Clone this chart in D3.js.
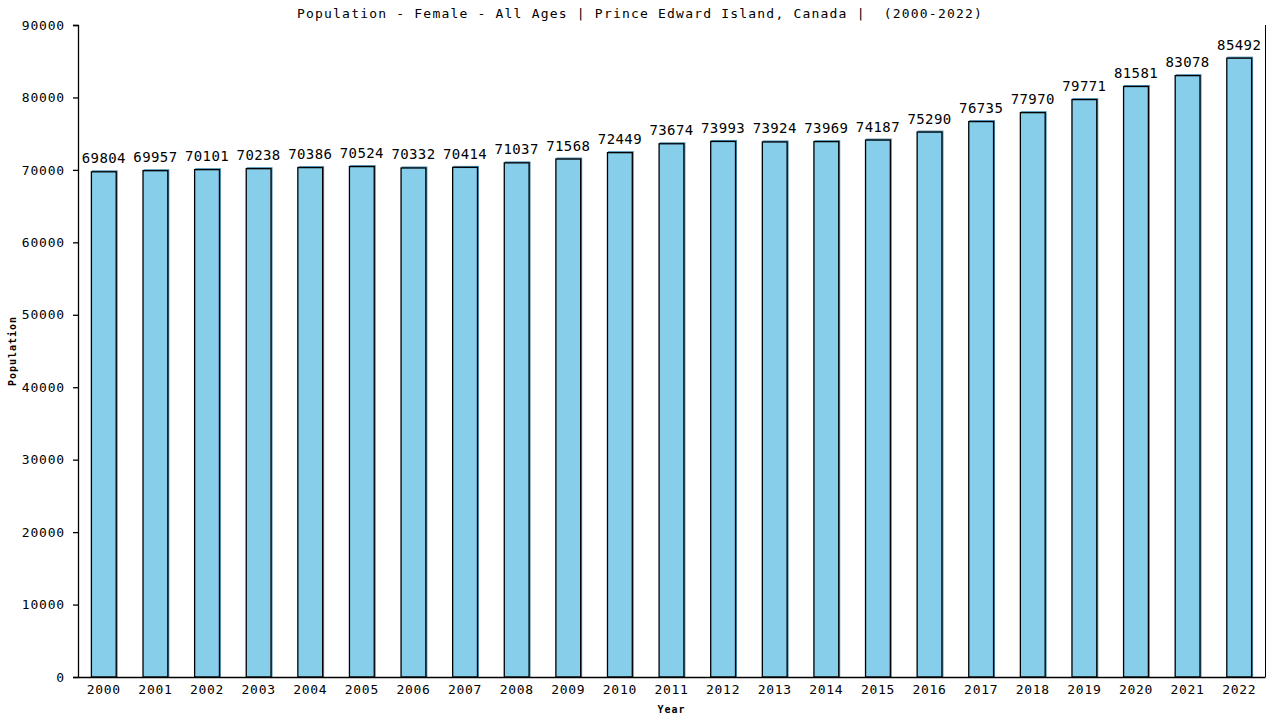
<!DOCTYPE html>
<html>
<head>
<meta charset="utf-8">
<script src="https://cdn.jsdelivr.net/npm/d3@7"></script>
<style>
  body { margin: 0; background: #fff; }
  text { font-family: "DejaVu Sans Mono", "Liberation Mono", monospace; fill: #000; }
</style>
</head>
<body>
<div id="chart"></div>
<script>
// chart data
const years = ["2000","2001","2002","2003","2004","2005","2006","2007","2008","2009","2010",
  "2011","2012","2013","2014","2015","2016","2017","2018","2019","2020","2021","2022"];
const population = [69804,69957,70101,70238,70386,70524,70332,70414,71037,71568,72449,
  73674,73993,73924,73969,74187,75290,76735,77970,79771,81581,83078,85492];
const yTicks = [0,10000,20000,30000,40000,50000,60000,70000,80000,90000];
const title = "Population - Female - All Ages | Prince Edward Island, Canada |  (2000-2022)";

const width = 1280, height = 720;
const margin = {top: 25, right: 15, bottom: 43, left: 78};
const innerW = width - margin.left - margin.right;
const innerH = height - margin.top - margin.bottom;

let svg = d3.select('#chart')
    .append('svg')
    .attr('width', width)
    .attr('height', height);

svg.append('text')
    .attr('x', width / 2)
    .attr('y', 18)
    .attr('text-anchor', 'middle')
    .style('white-space', 'pre')
    .style('font-size', '13px')
    .style('letter-spacing', '1.2px')
    .text(title);

let g = svg.append('g')
    .attr('transform', 'translate(' + margin.left + ',' + margin.top + ')');

let x = d3.scaleBand()
    .domain(years)
    .range([0, innerW])
    .paddingInner(0.5)
    .paddingOuter(0.25);

let y = d3.scaleLinear()
    .domain([0, 90000])
    .range([innerH, 0]);

// right frame line
g.append('line')
    .attr('x1', innerW + 0.5).attr('x2', innerW + 0.5)
    .attr('y1', 0).attr('y2', innerH)
    .attr('stroke', '#000');

// bar shadows
g.selectAll('rect.shadow')
    .data(population)
    .enter().append('rect')
    .attr('class', 'shadow')
    .attr('x', (d, i) => x(years[i]) + 1)
    .attr('y', d => y(d) - 1)
    .attr('width', x.bandwidth())
    .attr('height', d => innerH - y(d) + 1)
    .attr('fill', '#4a8fb5');

g.selectAll('rect.bar')
    .data(population)
    .enter().append('rect')
    .attr('class', 'bar')
    .attr('x', (d, i) => x(years[i]) + 0.5)
    .attr('y', d => y(d) + 0.5)
    .attr('width', x.bandwidth() - 1)
    .attr('height', d => innerH - y(d) - 0.5)
    .attr('fill', '#87ceeb')
    .attr('stroke', '#000')
    .attr('stroke-width', 1.3);

g.selectAll('text.val')
    .data(population)
    .enter().append('text')
    .attr('class', 'val')
    .attr('x', (d, i) => x(years[i]) + x.bandwidth() / 2)
    .attr('y', d => y(d) - 8)
    .attr('text-anchor', 'middle')
    .style('font-size', '14px')
    .style('letter-spacing', '0.4px')
    .text(d => d);

let yAxis = g.append('g')
    .call(d3.axisLeft(y).tickValues(yTicks).tickSize(5).tickPadding(8).tickFormat(d3.format('d')));
yAxis.selectAll('text')
    .style('font-size', '13px')
    .style('letter-spacing', '0.8px')
    .style('font-family', '"DejaVu Sans Mono", monospace');
yAxis.selectAll('line, path').attr('stroke', '#000').attr('stroke-width', 1.3);

let xAxis = g.append('g')
    .attr('transform', 'translate(0,' + innerH + ')')
    .call(d3.axisBottom(x).tickSize(0).tickPadding(8));
xAxis.selectAll('text')
    .style('font-size', '13px')
    .style('letter-spacing', '0.7px')
    .style('font-family', '"DejaVu Sans Mono", monospace');
xAxis.select('path').attr('stroke', '#000').attr('stroke-width', 1.3);

svg.append('text')
    .attr('x', margin.left + innerW / 2)
    .attr('y', 713)
    .attr('text-anchor', 'middle')
    .style('font-size', '10px')
    .style('font-weight', 'bold')
    .style('letter-spacing', '1px')
    .text('Year');

svg.append('text')
    .attr('transform', 'translate(16,' + (margin.top + innerH / 2) + ') rotate(-90)')
    .attr('text-anchor', 'middle')
    .style('font-size', '10px')
    .style('font-weight', 'bold')
    .style('letter-spacing', '1px')
    .text('Population');
</script>
</body>
</html>
